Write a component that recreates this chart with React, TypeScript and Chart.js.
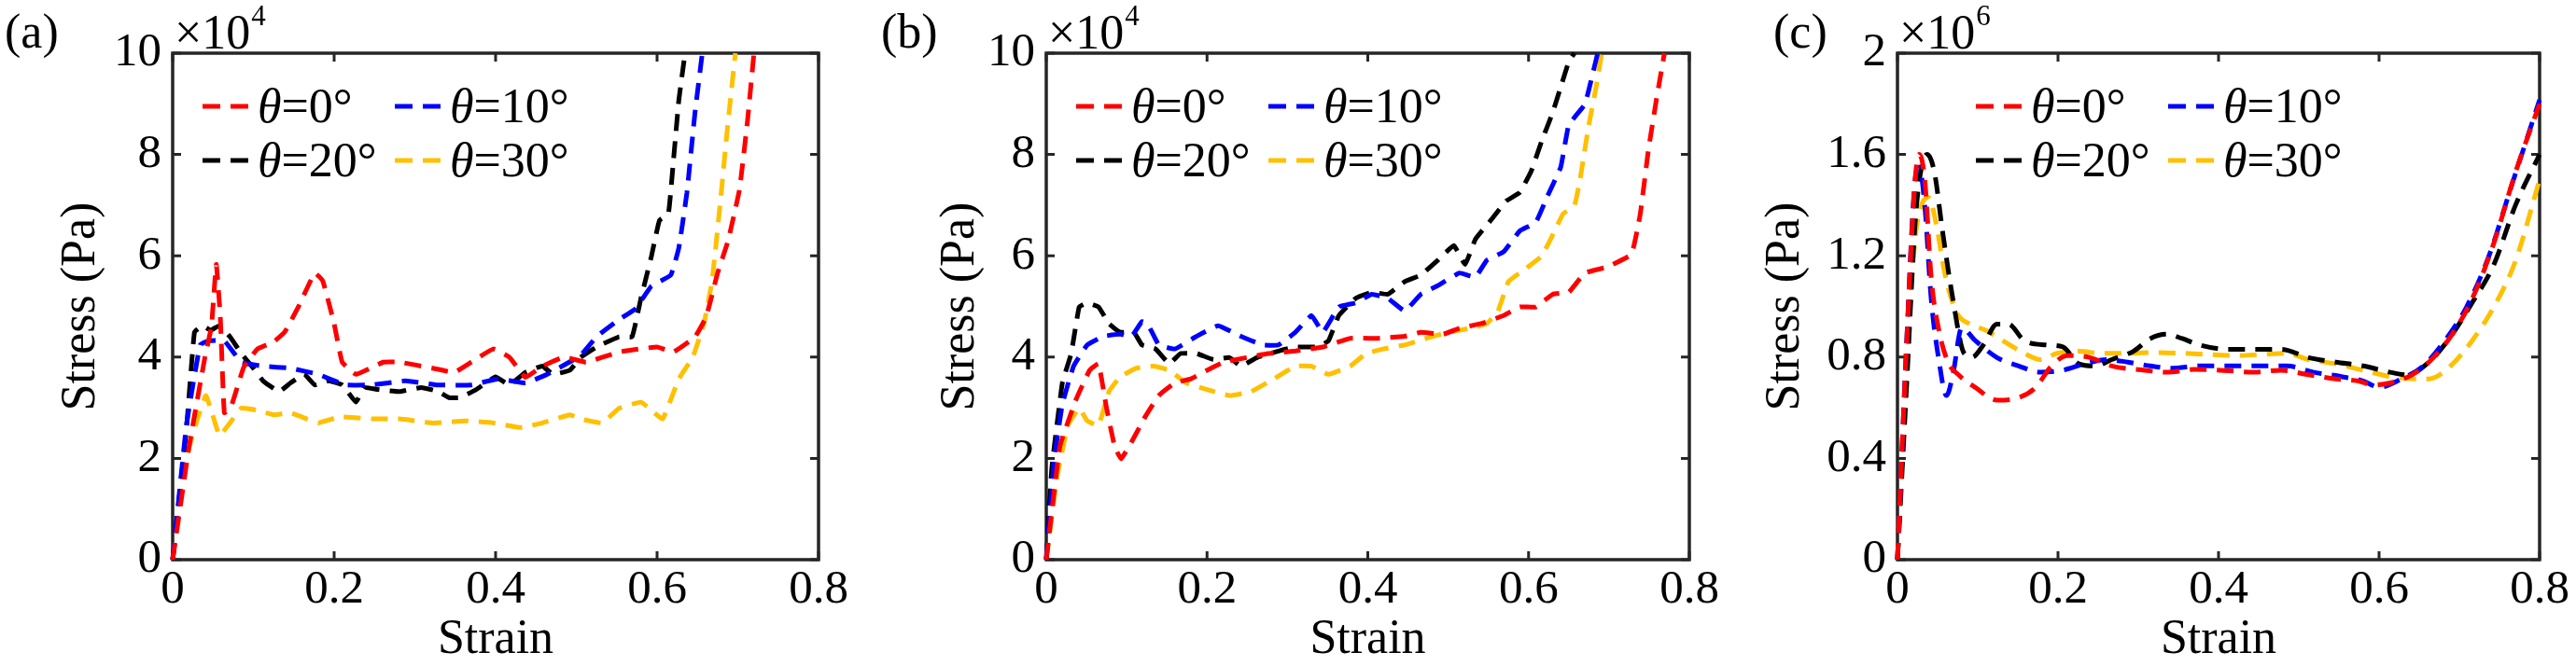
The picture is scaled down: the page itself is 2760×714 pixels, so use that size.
import React, { useEffect, useRef } from 'react';
import { Chart, registerables } from 'chart.js';

Chart.register(...registerables);

const FONT = '"Liberation Serif", "Times New Roman"';

const seriesLabels = ['0°', '10°', '20°', '30°'];
const seriesColors = ['#ff0000', '#0000ff', '#000000', '#ffc000'];

const xTickValues = [0, 0.2, 0.4, 0.6, 0.8];
const xTickLabels = ['0', '0.2', '0.4', '0.6', '0.8'];
const yTickValuesAB = [0, 2, 4, 6, 8, 10];
const yTickLabelsAB = ['0', '2', '4', '6', '8', '10'];
const yTickValuesC = [0, 0.4, 0.8, 1.2, 1.6, 2];
const yTickLabelsC = ['0', '0.4', '0.8', '1.2', '1.6', '2'];

// ---------- Panel (a): stress in units of 10^4 Pa ----------
const aStrain0 = [0, 0.02, 0.04, 0.048, 0.054, 0.059, 0.064, 0.072, 0.088, 0.105, 0.125, 0.139, 0.156, 0.176, 0.186, 0.2, 0.21, 0.227, 0.261, 0.281, 0.322, 0.349, 0.37, 0.397, 0.417, 0.437, 0.458, 0.485, 0.512, 0.553, 0.6, 0.62, 0.647, 0.661, 0.675, 0.688, 0.702, 0.712, 0.72];
const aStress0 = [0, 2.2, 4.0, 4.6, 5.83, 4.8, 2.9, 3.0, 3.8, 4.16, 4.3, 4.5, 5.0, 5.66, 5.5, 4.66, 3.9, 3.66, 3.9, 3.9, 3.78, 3.7, 3.9, 4.16, 4.0, 3.6, 3.82, 4.0, 3.9, 4.1, 4.2, 4.1, 4.4, 4.8, 5.66, 6.3, 7.3, 8.66, 10];
const aStrain10 = [0, 0.017, 0.034, 0.044, 0.064, 0.085, 0.112, 0.146, 0.18, 0.214, 0.247, 0.288, 0.329, 0.37, 0.403, 0.437, 0.464, 0.505, 0.525, 0.553, 0.573, 0.593, 0.617, 0.627, 0.637, 0.647, 0.656];
const aStress10 = [0, 2.65, 4.24, 4.32, 4.32, 3.9, 3.82, 3.78, 3.66, 3.45, 3.45, 3.53, 3.45, 3.45, 3.57, 3.49, 3.66, 4.03, 4.4, 4.74, 4.95, 5.4, 5.62, 6.16, 7.25, 8.83, 10];
const aStrain20 = [0, 0.017, 0.027, 0.037, 0.047, 0.058, 0.071, 0.085, 0.098, 0.112, 0.132, 0.146, 0.163, 0.176, 0.193, 0.21, 0.227, 0.237, 0.254, 0.281, 0.308, 0.329, 0.342, 0.356, 0.376, 0.4, 0.417, 0.437, 0.458, 0.471, 0.492, 0.505, 0.525, 0.553, 0.569, 0.58, 0.593, 0.603, 0.614, 0.62, 0.627, 0.634];
const aStress20 = [0, 2.57, 4.49, 4.62, 4.53, 4.62, 4.4, 4.07, 3.82, 3.53, 3.32, 3.49, 3.66, 3.45, 3.53, 3.45, 3.11, 3.4, 3.36, 3.32, 3.4, 3.32, 3.2, 3.2, 3.36, 3.61, 3.45, 3.7, 3.82, 3.66, 3.74, 3.99, 4.2, 4.4, 4.4, 5.16, 5.99, 6.7, 6.83, 7.83, 9.08, 9.92];
const aStrain30 = [0, 0.0136, 0.03, 0.041, 0.047, 0.058, 0.071, 0.085, 0.105, 0.125, 0.146, 0.166, 0.18, 0.207, 0.247, 0.281, 0.322, 0.363, 0.397, 0.431, 0.458, 0.492, 0.505, 0.532, 0.553, 0.58, 0.593, 0.607, 0.627, 0.644, 0.658, 0.668, 0.678, 0.687, 0.697];
const aStress30 = [0, 1.82, 2.74, 3.24, 2.99, 2.45, 2.7, 2.99, 2.95, 2.86, 2.9, 2.78, 2.7, 2.82, 2.78, 2.78, 2.7, 2.74, 2.7, 2.61, 2.7, 2.86, 2.78, 2.7, 2.99, 3.11, 2.95, 2.78, 3.57, 3.99, 4.66, 5.49, 7.0, 8.5, 10];

// ---------- Panel (b): stress in units of 10^4 Pa ----------
const bStrain0 = [0, 0.017, 0.037, 0.054, 0.065, 0.075, 0.085, 0.093, 0.106, 0.123, 0.14, 0.16, 0.18, 0.2, 0.221, 0.249, 0.276, 0.31, 0.344, 0.378, 0.412, 0.446, 0.466, 0.494, 0.514, 0.541, 0.569, 0.589, 0.609, 0.63, 0.65, 0.67, 0.698, 0.728, 0.739, 0.749, 0.759, 0.769];
const bStress0 = [0, 2.24, 3.16, 3.74, 3.87, 2.99, 2.24, 1.99, 2.32, 2.82, 3.24, 3.49, 3.57, 3.74, 3.9, 3.99, 4.07, 4.12, 4.2, 4.37, 4.37, 4.41, 4.49, 4.45, 4.57, 4.66, 4.82, 4.99, 4.99, 5.24, 5.28, 5.66, 5.78, 6.03, 6.83, 8.08, 9.08, 10];
const bStrain10 = [0, 0.01, 0.02, 0.034, 0.051, 0.071, 0.092, 0.106, 0.119, 0.126, 0.14, 0.16, 0.187, 0.214, 0.242, 0.269, 0.289, 0.31, 0.33, 0.344, 0.364, 0.385, 0.405, 0.425, 0.446, 0.466, 0.487, 0.514, 0.534, 0.548, 0.569, 0.589, 0.609, 0.623, 0.64, 0.65, 0.67, 0.677, 0.686];
const bStress10 = [0, 1.99, 3.07, 3.82, 4.24, 4.41, 4.45, 4.41, 4.7, 4.66, 4.24, 4.16, 4.41, 4.62, 4.41, 4.24, 4.24, 4.49, 4.82, 4.49, 4.99, 5.07, 5.24, 5.16, 4.91, 5.24, 5.41, 5.66, 5.58, 5.91, 6.08, 6.49, 6.66, 7.16, 7.75, 8.58, 8.99, 9.41, 10];
const bStrain20 = [0, 0.007, 0.02, 0.031, 0.041, 0.051, 0.065, 0.078, 0.092, 0.109, 0.119, 0.136, 0.153, 0.167, 0.187, 0.208, 0.228, 0.242, 0.262, 0.289, 0.31, 0.337, 0.351, 0.364, 0.385, 0.405, 0.425, 0.446, 0.466, 0.487, 0.507, 0.521, 0.534, 0.555, 0.572, 0.589, 0.603, 0.616, 0.63, 0.64, 0.65, 0.657];
const bStress20 = [0, 1.82, 3.49, 4.07, 4.99, 5.07, 4.99, 4.66, 4.49, 4.49, 4.24, 4.16, 3.87, 4.07, 4.07, 3.95, 3.99, 3.82, 3.99, 4.12, 4.2, 4.2, 4.32, 4.82, 5.16, 5.28, 5.24, 5.49, 5.62, 5.91, 6.2, 5.83, 6.33, 6.74, 7.08, 7.25, 7.66, 8.25, 8.83, 9.33, 9.83, 10];
const bStrain30 = [0, 0.0136, 0.027, 0.041, 0.051, 0.065, 0.078, 0.092, 0.112, 0.133, 0.153, 0.174, 0.2, 0.228, 0.255, 0.283, 0.31, 0.33, 0.351, 0.378, 0.398, 0.419, 0.446, 0.473, 0.5, 0.528, 0.548, 0.562, 0.575, 0.596, 0.616, 0.63, 0.643, 0.657, 0.664, 0.674, 0.684, 0.691];
const bStress30 = [0, 1.65, 2.65, 2.99, 2.74, 2.65, 3.32, 3.61, 3.78, 3.82, 3.74, 3.49, 3.36, 3.24, 3.32, 3.57, 3.82, 3.82, 3.66, 3.82, 4.07, 4.16, 4.24, 4.37, 4.49, 4.57, 4.66, 4.91, 5.49, 5.74, 5.99, 6.41, 6.83, 6.99, 7.5, 8.5, 9.33, 10];

// ---------- Panel (c): stress in units of 10^6 Pa ----------
const cStrain0 = [0, 0.0116, 0.022, 0.027, 0.034, 0.042, 0.052, 0.063, 0.076, 0.097, 0.124, 0.151, 0.172, 0.192, 0.212, 0.24, 0.267, 0.308, 0.335, 0.369, 0.403, 0.444, 0.478, 0.512, 0.546, 0.573, 0.594, 0.614, 0.641, 0.662, 0.689, 0.716, 0.743, 0.77, 0.8];
const cStress0 = [0, 0.865, 1.5, 1.6, 1.5, 1.115, 0.9, 0.78, 0.73, 0.68, 0.63, 0.64, 0.68, 0.765, 0.806, 0.798, 0.765, 0.748, 0.74, 0.751, 0.748, 0.74, 0.748, 0.73, 0.714, 0.706, 0.69, 0.698, 0.73, 0.78, 0.88, 1.03, 1.25, 1.53, 1.8];
const cStrain10 = [0, 0.0116, 0.022, 0.027, 0.034, 0.042, 0.052, 0.061, 0.069, 0.08, 0.097, 0.124, 0.151, 0.178, 0.206, 0.233, 0.26, 0.287, 0.315, 0.342, 0.376, 0.41, 0.45, 0.485, 0.519, 0.553, 0.58, 0.6, 0.628, 0.655, 0.682, 0.709, 0.737, 0.764, 0.8];
const cStress10 = [0, 0.87, 1.5, 1.55, 1.4, 1.03, 0.78, 0.648, 0.73, 0.915, 0.865, 0.798, 0.765, 0.74, 0.748, 0.773, 0.79, 0.78, 0.765, 0.756, 0.765, 0.765, 0.765, 0.765, 0.74, 0.723, 0.706, 0.681, 0.714, 0.765, 0.865, 0.998, 1.2, 1.466, 1.816];
const cStrain20 = [0, 0.0116, 0.022, 0.03, 0.037, 0.046, 0.056, 0.069, 0.083, 0.093, 0.107, 0.124, 0.138, 0.158, 0.185, 0.206, 0.226, 0.246, 0.267, 0.294, 0.315, 0.335, 0.355, 0.376, 0.41, 0.444, 0.478, 0.512, 0.546, 0.58, 0.614, 0.635, 0.662, 0.689, 0.716, 0.743, 0.77, 0.8];
const cStress20 = [0, 0.7, 1.33, 1.55, 1.6, 1.53, 1.3, 1.03, 0.815, 0.8, 0.848, 0.93, 0.93, 0.865, 0.848, 0.84, 0.773, 0.765, 0.79, 0.823, 0.873, 0.89, 0.873, 0.848, 0.831, 0.831, 0.831, 0.798, 0.78, 0.765, 0.74, 0.73, 0.78, 0.88, 1.015, 1.165, 1.4, 1.6];
const cStrain30 = [0, 0.0116, 0.022, 0.032, 0.039, 0.048, 0.059, 0.073, 0.09, 0.11, 0.131, 0.158, 0.178, 0.199, 0.226, 0.253, 0.287, 0.321, 0.355, 0.389, 0.423, 0.457, 0.485, 0.512, 0.546, 0.58, 0.614, 0.648, 0.662, 0.689, 0.716, 0.743, 0.77, 0.8];
const cStress30 = [0, 0.78, 1.265, 1.416, 1.43, 1.33, 1.13, 0.98, 0.93, 0.906, 0.865, 0.815, 0.79, 0.815, 0.823, 0.815, 0.815, 0.818, 0.815, 0.81, 0.806, 0.811, 0.815, 0.79, 0.773, 0.748, 0.723, 0.714, 0.714, 0.765, 0.865, 0.998, 1.18, 1.5];

type PanelDef = {
  canvasLeft: number;
  plotLeft: number;
  plotRight: number;
  yTitleX: number;
  label: string;
  labelX: number;
  exponent: string;
  yMax: number;
  yTickValues: number[];
  yTickLabels: string[];
  strains: number[][];
  stresses: number[][];
  legendShift: number;
  smooth: boolean;
};

const CANVAS_W = 920;
const CANVAS_H = 714;
const PLOT_TOP = 57;
const PLOT_BOTTOM = 600;

const panels: PanelDef[] = [
  {
    canvasLeft: 0, plotLeft: 185, plotRight: 877, yTitleX: 87, label: '(a)', labelX: 5, exponent: '4',
    yMax: 10, yTickValues: yTickValuesAB, yTickLabels: yTickLabelsAB,
    strains: [aStrain0, aStrain10, aStrain20, aStrain30],
    stresses: [aStress0, aStress10, aStress20, aStress30],
    legendShift: 0, smooth: false,
  },
  {
    canvasLeft: 920, plotLeft: 1121, plotRight: 1810, yTitleX: 1029, label: '(b)', labelX: 24, exponent: '4',
    yMax: 10, yTickValues: yTickValuesAB, yTickLabels: yTickLabelsAB,
    strains: [bStrain0, bStrain10, bStrain20, bStrain30],
    stresses: [bStress0, bStress10, bStress20, bStress30],
    legendShift: 0, smooth: false,
  },
  {
    canvasLeft: 1840, plotLeft: 2033, plotRight: 2721, yTitleX: 1913, label: '(c)', labelX: 60, exponent: '6',
    yMax: 2, yTickValues: yTickValuesC, yTickLabels: yTickLabelsC,
    strains: [cStrain0, cStrain10, cStrain20, cStrain30],
    stresses: [cStress0, cStress10, cStress20, cStress30],
    legendShift: 52, smooth: true,
  },
];

const DASH = [18, 11];
const LINE_W = 5;
const AXIS_COLOR = '#262626';

function Panel({ def }: { def: PanelDef }) {
  const ref = useRef<HTMLCanvasElement | null>(null);

  useEffect(() => {
    const canvas = ref.current;
    if (!canvas) return;
    const localPlotLeft = def.plotLeft - def.canvasLeft;
    const localPlotRight = def.plotRight - def.canvasLeft;
    const yAxisWidth = localPlotLeft;
    const xAxisHeight = CANVAS_H - PLOT_BOTTOM;
    const yTitleLocal = def.yTitleX - def.canvasLeft;

    const decor = {
      id: 'decor',
      beforeDatasetsDraw(chart: any) {
        const { ctx, chartArea: ca, scales } = chart;
        const xs = scales.x;
        const ys = scales.y;
        ctx.save();
        ctx.strokeStyle = AXIS_COLOR;
        ctx.lineWidth = 3.5;
        ctx.setLineDash([]);
        ctx.strokeRect(ca.left, ca.top, ca.right - ca.left, ca.bottom - ca.top);
        ctx.lineWidth = 3;
        const tl = 9;
        ctx.beginPath();
        xs.ticks.forEach((t: any) => {
          const px = xs.getPixelForValue(t.value);
          ctx.moveTo(px, ca.bottom);
          ctx.lineTo(px, ca.bottom - tl);
          ctx.moveTo(px, ca.top);
          ctx.lineTo(px, ca.top + tl);
        });
        ys.ticks.forEach((t: any) => {
          const py = ys.getPixelForValue(t.value);
          ctx.moveTo(ca.left, py);
          ctx.lineTo(ca.left + tl, py);
          ctx.moveTo(ca.right, py);
          ctx.lineTo(ca.right - tl, py);
        });
        ctx.stroke();
        ctx.restore();
      },
      afterDraw(chart: any) {
        const { ctx, chartArea: ca } = chart;
        ctx.save();
        ctx.fillStyle = '#000';
        ctx.textBaseline = 'alphabetic';
        ctx.textAlign = 'left';
        ctx.font = `52px ${FONT}`;
        ctx.fillText(def.label, def.labelX, 51);
        const mx = ca.left + 2;
        ctx.fillText('×10', mx, 52);
        const mw = ctx.measureText('×10').width;
        ctx.font = `31px ${FONT}`;
        ctx.fillText(def.exponent, mx + mw + 1, 27);
        chart.data.datasets.forEach((ds: any, i: number) => {
          const col = i % 2;
          const row = Math.floor(i / 2);
          const ly = 114 + row * 58;
          const lx = ca.left + def.legendShift + (col === 0 ? 32 : 238);
          ctx.save();
          ctx.strokeStyle = ds.borderColor;
          ctx.lineWidth = LINE_W;
          ctx.setLineDash([19, 11]);
          ctx.beginPath();
          ctx.moveTo(lx, ly);
          ctx.lineTo(lx + 49, ly);
          ctx.stroke();
          ctx.restore();
          const tx = lx + 59;
          ctx.font = `italic 52px ${FONT}`;
          ctx.fillText('θ', tx, ly + 17);
          const tw = ctx.measureText('θ').width;
          ctx.font = `52px ${FONT}`;
          ctx.fillText('=' + ds.label, tx + tw, ly + 17);
        });
        ctx.restore();
      },
    };

    const datasets = def.strains.map((xs, i) => ({
      label: seriesLabels[i],
      data: xs.map((x, j) => ({ x, y: def.stresses[i][j] })),
      borderColor: seriesColors[i],
      backgroundColor: seriesColors[i],
      borderWidth: LINE_W,
      borderDash: DASH,
      pointRadius: 0,
      fill: false,
      tension: def.smooth ? 0.4 : 0.1,
      cubicInterpolationMode: def.smooth ? 'monotone' : 'default',
      clip: 3,
    }));

    const chart = new Chart(canvas, {
      type: 'line',
      data: { datasets },
      plugins: [decor],
      options: {
        responsive: false,
        devicePixelRatio: 1,
        animation: false,
        events: [],
        layout: {
          padding: { left: 0, top: PLOT_TOP, right: CANVAS_W - localPlotRight, bottom: 0 },
        },
        plugins: {
          legend: { display: false },
          tooltip: { enabled: false },
        },
        scales: {
          x: {
            type: 'linear',
            min: 0,
            max: 0.8,
            afterBuildTicks: (scale: any) => {
              scale.ticks = xTickValues.map((v) => ({ value: v }));
            },
            afterFit: (scale: any) => {
              scale.height = xAxisHeight;
              scale.paddingLeft = 0;
              scale.paddingRight = 0;
            },
            grid: { display: false, drawTicks: false },
            border: { display: false },
            ticks: {
              color: '#000',
              font: { family: FONT, size: 51 },
              padding: 2,
              maxRotation: 0,
              autoSkip: false,
              callback: (_v: any, idx: number) => xTickLabels[idx],
            },
            title: {
              display: true,
              text: 'Strain',
              color: '#000',
              font: { family: FONT, size: 52, lineHeight: 1 },
              padding: { top: 0, bottom: 2 },
            },
          },
          y: {
            type: 'linear',
            min: 0,
            max: def.yMax,
            afterBuildTicks: (scale: any) => {
              scale.ticks = def.yTickValues.map((v) => ({ value: v }));
            },
            afterFit: (scale: any) => {
              scale.width = yAxisWidth;
              scale.paddingTop = 0;
              scale.paddingBottom = 0;
            },
            grid: { display: false, drawTicks: false },
            border: { display: false },
            ticks: {
              color: '#000',
              font: { family: FONT, size: 51 },
              padding: 12,
              autoSkip: false,
              callback: (_v: any, idx: number) => def.yTickLabels[idx],
            },
            title: {
              display: true,
              text: 'Stress (Pa)',
              color: '#000',
              font: { family: FONT, size: 52, lineHeight: 1 },
              padding: { top: yTitleLocal - 26, bottom: 0 },
            },
          },
        },
      } as any,
    });
    const redraw = setTimeout(() => chart.update('none'), 200);
    return () => {
      clearTimeout(redraw);
      chart.destroy();
    };
  }, [def]);

  return (
    <canvas
      ref={ref}
      width={CANVAS_W}
      height={CANVAS_H}
      style={{ position: 'absolute', left: def.canvasLeft, top: 0, width: CANVAS_W, height: CANVAS_H }}
    />
  );
}

export default function App() {
  return (
    <div style={{ position: 'absolute', left: 0, top: 0, width: 2760, height: 714, background: '#fff', overflow: 'hidden' }}>
      {panels.map((p) => (
        <Panel key={p.label} def={p} />
      ))}
    </div>
  );
}
